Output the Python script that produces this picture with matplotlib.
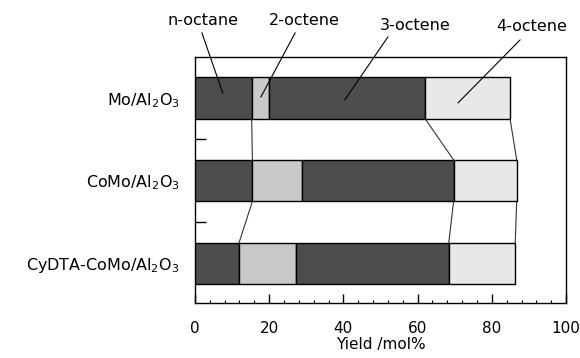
import numpy as np
import matplotlib
matplotlib.use('Agg')
import matplotlib.pyplot as plt
from matplotlib.ticker import MultipleLocator, FixedLocator

plt.rcParams['font.family'] = 'DejaVu Sans'
plt.rcParams['mathtext.default'] = 'regular'

# --- data (yield, mol%) ---
catalysts = ['Mo/Al$_2$O$_3$', 'CoMo/Al$_2$O$_3$', 'CyDTA-CoMo/Al$_2$O$_3$']
products = ['n-octane', '2-octene', '3-octene', '4-octene']
n_octane = [15.3, 15.5, 11.9]
octene_2 = [4.7, 13.3, 15.4]
octene_3 = [42.0, 40.9, 41.1]
octene_4 = [22.9, 17.0, 17.9]

colors = ['#4d4d4d', '#c9c9c9', '#4d4d4d', '#e8e8e8']

series = np.array([n_octane, octene_2, octene_3, octene_4])
cum = np.cumsum(series, axis=0)
left = cum - series

fig = plt.figure(figsize=(5.8, 3.58), dpi=100)
ax = fig.add_axes([0.336, 0.154, 0.64, 0.687])

ypos = np.arange(len(catalysts))
h = 0.5
for k in range(len(products)):
    ax.barh(ypos, series[k], left=left[k], height=h, color=colors[k],
            edgecolor='black', linewidth=1.0, zorder=3)

# connecting lines between bars (n-octane end, 3-octene end, total)
for k in [0, 2, 3]:
    for i in range(len(catalysts) - 1):
        ax.plot([cum[k][i], cum[k][i + 1]], [i + h / 2, i + 1 - h / 2],
                color='#333333', lw=0.8, zorder=2)

ax.set_xlim(0, 100)
ax.set_ylim(2.477, -0.495)

ax.xaxis.set_major_locator(MultipleLocator(20))
ax.xaxis.set_minor_locator(MultipleLocator(4))
ax.tick_params(axis='x', which='major', direction='in', length=6.5, width=1,
               labelsize=11, pad=13, top=False)
ax.tick_params(axis='x', which='minor', direction='in', length=2.2, width=0.8, top=False)

ax.set_yticks(ypos)
ax.set_yticklabels(catalysts)
ax.yaxis.set_minor_locator(FixedLocator([0.5, 1.5]))
ax.tick_params(axis='y', which='major', length=0, labelsize=11.5, pad=11)
ax.tick_params(axis='y', which='minor', direction='in', length=8, width=1, right=False)

for s in ax.spines.values():
    s.set_linewidth(1.0)

ax.set_xlabel('Yield /mol%', fontsize=11, labelpad=1)

# product labels with leader lines
label_xy = [(2.2, -0.93), (29.6, -0.93), (59.3, -0.88), (90.8, -0.86)]
line_start = [(1.9, -0.785), (27.0, -0.785), (52.0, -0.737), (87.6, -0.70)]
line_end = [(7.5, -0.06), (17.8, -0.012), (40.4, 0.024), (70.9, 0.06)]
for name, (tx, ty), (x0, y0), (x1, y1) in zip(products, label_xy, line_start, line_end):
    ax.text(tx, ty, name, ha='center', va='center', fontsize=11.5, clip_on=False)
    ax.plot([x0, x1], [y0, y1], color='black', lw=0.8, clip_on=False, zorder=5)

fig.savefig('out.png', dpi=100)
